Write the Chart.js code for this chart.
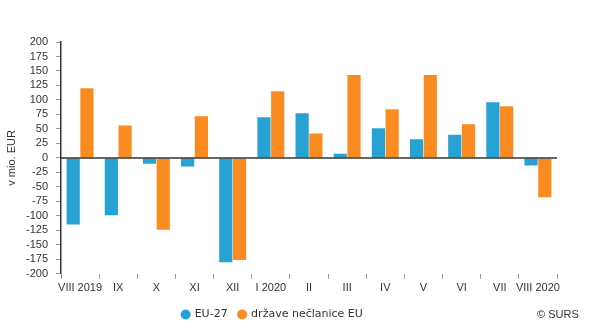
<!DOCTYPE html>
<html lang="sl">
<head>
    <meta charset="UTF-8">
    <title>Trgovinski saldo</title>
    <style>
        body {
            margin: 0;
            padding: 0;
            background: #fff;
        }

        .wrap {
            position: relative;
            width: 593px;
            height: 330px;
        }

        #copy {
            position: absolute;
            left: 537px;
            top: 308px;
            font-family: "Liberation Sans", Arial, sans-serif;
            font-size: 11px;
            color: #333;
        }
    </style>
    <script src="https://cdn.jsdelivr.net/npm/chart.js"></script>
</head>
<body>
    <div class="wrap">
        <canvas id="graph" width="593" height="330"></canvas>
        <div id="copy">© SURS</div>
    </div>
    <script>
        // months, Aug 2019 - Aug 2020
        const months = ['VIII 2019', 'IX', 'X', 'XI', 'XII', 'I 2020', 'II', 'III', 'IV', 'V', 'VI', 'VII', 'VIII 2020'];
        const eu27 = [-115, -99, -10, -15, -180, 70, 77, 7, 51, 32, 40, 96, -13];
        const nonEu = [120, 56, -124, 72, -176, 115, 42, 143, 84, 143, 58, 89, -68];
        const yTicks = [-200, -175, -150, -125, -100, -75, -50, -25, 0, 25, 50, 75, 100, 125, 150, 175, 200];

        const blue = 'rgb(38, 163, 212)';
        const orange = 'rgb(250, 139, 32)';

        // dark line at zero + nudge legend a bit to the left
        const zeroLine = {
            id: 'zeroLine',
            afterLayout(chart) {
                chart.legend.left -= 6;
                chart.legend.right -= 6;
            },
            afterDatasetsDraw(chart) {
                const ctx = chart.ctx;
                const y = chart.scales.y.getPixelForValue(0);
                ctx.save();
                ctx.strokeStyle = '#333';
                ctx.lineWidth = 1.5;
                ctx.beginPath();
                ctx.moveTo(chart.chartArea.left, y);
                ctx.lineTo(chart.chartArea.right, y);
                ctx.stroke();
                ctx.restore();
            }
        };

        const ctx = document.getElementById('graph').getContext('2d');
        new Chart(ctx, {
            type: 'bar',
            data: {
                labels: months,
                datasets: [
                    {
                        label: 'EU-27',
                        data: eu27,
                        backgroundColor: blue
                    },
                    {
                        label: 'države nečlanice EU',
                        data: nonEu,
                        backgroundColor: orange
                    }
                ]
            },
            options: {
                responsive: false,
                animation: false,
                categoryPercentage: 0.72,
                barPercentage: 0.96,
                layout: {
                    padding: { left: 0, right: 36, top: 42, bottom: 0 }
                },
                plugins: {
                    tooltip: { enabled: false },
                    legend: {
                        position: 'bottom',
                        labels: {
                            usePointStyle: true,
                            pointStyle: 'circle',
                            boxWidth: 7,
                            boxHeight: 7,
                            padding: 11,
                            color: '#333',
                            font: { family: 'DejaVu Sans', size: 11 }
                        }
                    }
                },
                scales: {
                    x: {
                        grid: {
                            display: true,
                            drawOnChartArea: false,
                            drawTicks: true,
                            tickLength: 5,
                            color: '#999'
                        },
                        border: { display: false },
                        ticks: {
                            color: '#333',
                            padding: 3,
                            maxRotation: 0,
                            autoSkip: false,
                            font: { family: 'Liberation Sans', size: 11 }
                        }
                    },
                    y: {
                        min: -200,
                        max: 200,
                        afterBuildTicks(scale) {
                            scale.ticks = yTicks.map(v => ({ value: v }));
                        },
                        afterFit(scale) {
                            scale.width = 61;
                        },
                        grid: {
                            display: true,
                            drawOnChartArea: false,
                            drawTicks: true,
                            tickLength: 5,
                            color: '#999'
                        },
                        border: { display: true, color: '#333', width: 1.5 },
                        ticks: {
                            color: '#333',
                            padding: 8,
                            autoSkip: false,
                            font: { family: 'Liberation Sans', size: 11 }
                        },
                        title: {
                            display: true,
                            text: 'v mio. EUR',
                            color: '#333',
                            padding: { top: 5, bottom: 0 },
                            font: { family: 'Liberation Sans', size: 11 }
                        }
                    }
                }
            },
            plugins: [zeroLine]
        });
    </script>
</body>
</html>
